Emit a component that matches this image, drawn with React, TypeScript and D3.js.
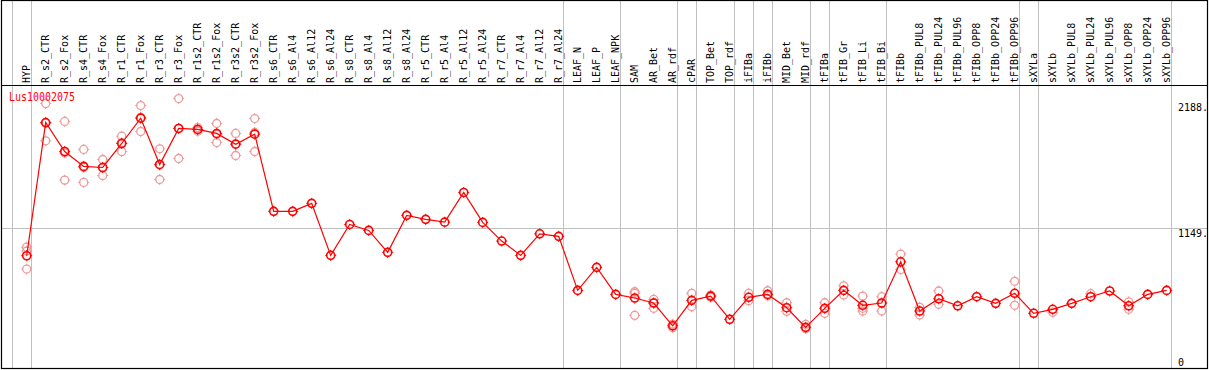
import React from "react";
import * as d3 from "d3";

const title = "Lus10002075";

const labels = [
  "HYP", "R_s2_CTR", "R_s2_Fox", "R_s4_CTR", "R_s4_Fox", "R_r1_CTR", "R_r1_Fox", "R_r3_CTR", "R_r3_Fox",
  "R_r1s2_CTR", "R_r1s2_Fox", "R_r3s2_CTR", "R_r3s2_Fox", "R_s6_CTR", "R_s6_Al4", "R_s6_Al12", "R_s6_Al24",
  "R_s8_CTR", "R_s8_Al4", "R_s8_Al12", "R_s8_Al24", "R_r5_CTR", "R_r5_Al4", "R_r5_Al12", "R_r5_Al24",
  "R_r7_CTR", "R_r7_Al4", "R_r7_Al12", "R_r7_Al24", "LEAF_N", "LEAF_P", "LEAF_NPK", "SAM", "AR_Bet", "AR_rdf",
  "cPAR", "TOP_Bet", "TOP_rdf", "iFIBa", "iFIBb", "MID_Bet", "MID_rdf", "tFIBa", "tFIB_Gr", "tFIB_Li", "tFIB_Bi",
  "tFIBb", "tFIBb_PUL8", "tFIBb_PUL24", "tFIBb_PUL96", "tFIBb_OPP8", "tFIBb_OPP24", "tFIBb_OPP96",
  "sXYLa", "sXYLb", "sXYLb_PUL8", "sXYLb_PUL24", "sXYLb_PUL96", "sXYLb_OPP8", "sXYLb_OPP24", "sXYLb_OPP96",
];

const means = [
  918, 2017, 1778, 1655, 1646, 1844, 2053, 1671, 1968, 1960, 1927, 1838, 1921,
  1284, 1284, 1350, 921, 1176, 1127, 946, 1251, 1218, 1195, 1440, 1193, 1039, 921, 1099, 1078,
  632, 822, 599, 569, 528, 340, 550, 585, 393, 575, 599, 489, 327, 484, 632, 509, 528,
  868, 462, 563, 505, 580, 525, 608, 443, 476, 525, 580, 627, 505, 599, 632,
];

const replicates: number[][] = [
  [989, 957, 808], [2174, 1866, 2011], [2026, 1542, 1766], [1795, 1523, 1647], [1712, 1580, 1646],
  [1904, 1778, 1850], [2157, 1943, 2059], [1800, 1547, 1666], [2215, 1720, 1969], [1975, 1960, 1945],
  [2009, 1852, 1920], [1927, 1745, 1842], [2050, 1778, 1935],
  [], [], [], [], [], [], [], [], [], [], [], [], [], [], [], [],
  [], [], [],
  [621, 608, 426], [558, 484, 528], [325, 354], [608, 497], [593, 575], [], [608, 547], [629, 588],
  [530, 459], [352, 316], [530, 443], [670, 594], [585, 484, 462], [580, 462],
  [932, 805], [492, 429], [627, 517], [], [], [], [707, 509],
  [], [451], [], [605], [], [538, 476], [], [],
];

const yTicks = [2188, 1149, 0];
const groupEnds = [-1, 0, 28, 31, 34, 35, 37, 38, 39, 41, 42, 45, 52, 53, 60];

const W = 1209, H = 370;
const RED = "#ff0000";
const PINK = "#ee9a9a";
const GRID = "#c0c0c0";
const FONT = "'DejaVu Sans Mono', monospace";

function Marker({ cx, cy, color, sw }: { cx: number; cy: number; color: string; sw: number }) {
  const r = 4;
  return (
    <g stroke={color} fill="none">
      <circle cx={cx} cy={cy} r={r} strokeWidth={sw} />
      <line x1={cx} x2={cx} y1={cy - r - 1.5} y2={cy - r + 0.5} strokeWidth={1} />
      <line x1={cx} x2={cx} y1={cy + r - 0.5} y2={cy + r + 1.5} strokeWidth={1} />
      <line x1={cx - r - 1.5} x2={cx - r + 0.5} y1={cy} y2={cy} strokeWidth={1} />
      <line x1={cx + r - 0.5} x2={cx + r + 1.5} y1={cy} y2={cy} strokeWidth={1} />
    </g>
  );
}

export default function App() {
  const x = d3.scaleLinear().domain([0, labels.length - 1]).range([26.7, 26.7 + 19 * (labels.length - 1)]);
  const y = d3.scaleLinear().domain([0, 2188]).range([367, 101.8]);
  const line = d3.line<number>().x((_, i) => x(i)).y((d) => y(d));

  const frameL = 1.5, frameR = 1207.5, frameT = 0.5, frameB = 368.5, headerB = 85.5;

  return (
    <svg width={W} height={H} style={{ position: "absolute", left: 0, top: 0, background: "#fff" }}>
      <rect x={0} y={0} width={W} height={H} fill="#fff" />
      {groupEnds.map((g) => {
        const gx = Math.round(x(g) + 4) + 0.5;
        return <line key={g} x1={gx} x2={gx} y1={frameT} y2={frameB} stroke={GRID} strokeWidth={1} />;
      })}
      <line x1={frameL} x2={frameR} y1={Math.round(y(1149)) + 0.5} y2={Math.round(y(1149)) + 0.5} stroke={GRID} strokeWidth={1} />
      {replicates.map((reps, i) =>
        reps.map((v, j) => <Marker key={`${i}-${j}`} cx={x(i)} cy={y(v)} color={PINK} sw={1.3} />)
      )}
      <path d={line(means) || ""} fill="none" stroke={RED} strokeWidth={1.2} />
      {means.map((v, i) => (
        <Marker key={i} cx={x(i)} cy={y(v)} color={RED} sw={1.6} />
      ))}
      <rect x={frameL} y={frameT} width={frameR - frameL} height={frameB - frameT} fill="none" stroke="#000" strokeWidth={1.2} />
      <line x1={frameL} x2={frameR} y1={headerB} y2={headerB} stroke="#000" strokeWidth={1.2} />
      {labels.map((l, i) => (
        <text
          key={l}
          transform={`translate(${Math.round(x(i) + 3)},83) rotate(-90)`}
          fontFamily={FONT}
          fontSize={10}
          fill="#000"
          textAnchor="start"
        >
          {l}
        </text>
      ))}
      {yTicks.map((t) => (
        <text
          key={t}
          x={1178}
          y={t === 0 ? 365.7 : y(t) + 9}
          fontFamily={FONT}
          fontSize={10}
          fill="#000"
        >
          {t === 0 ? "0" : `${t}.`}
        </text>
      ))}
      <text x={9} y={101} fontFamily={FONT} fontSize={10} fill={RED} transform="translate(0,-25) scale(1,1.25)">
        {title}
      </text>
    </svg>
  );
}
